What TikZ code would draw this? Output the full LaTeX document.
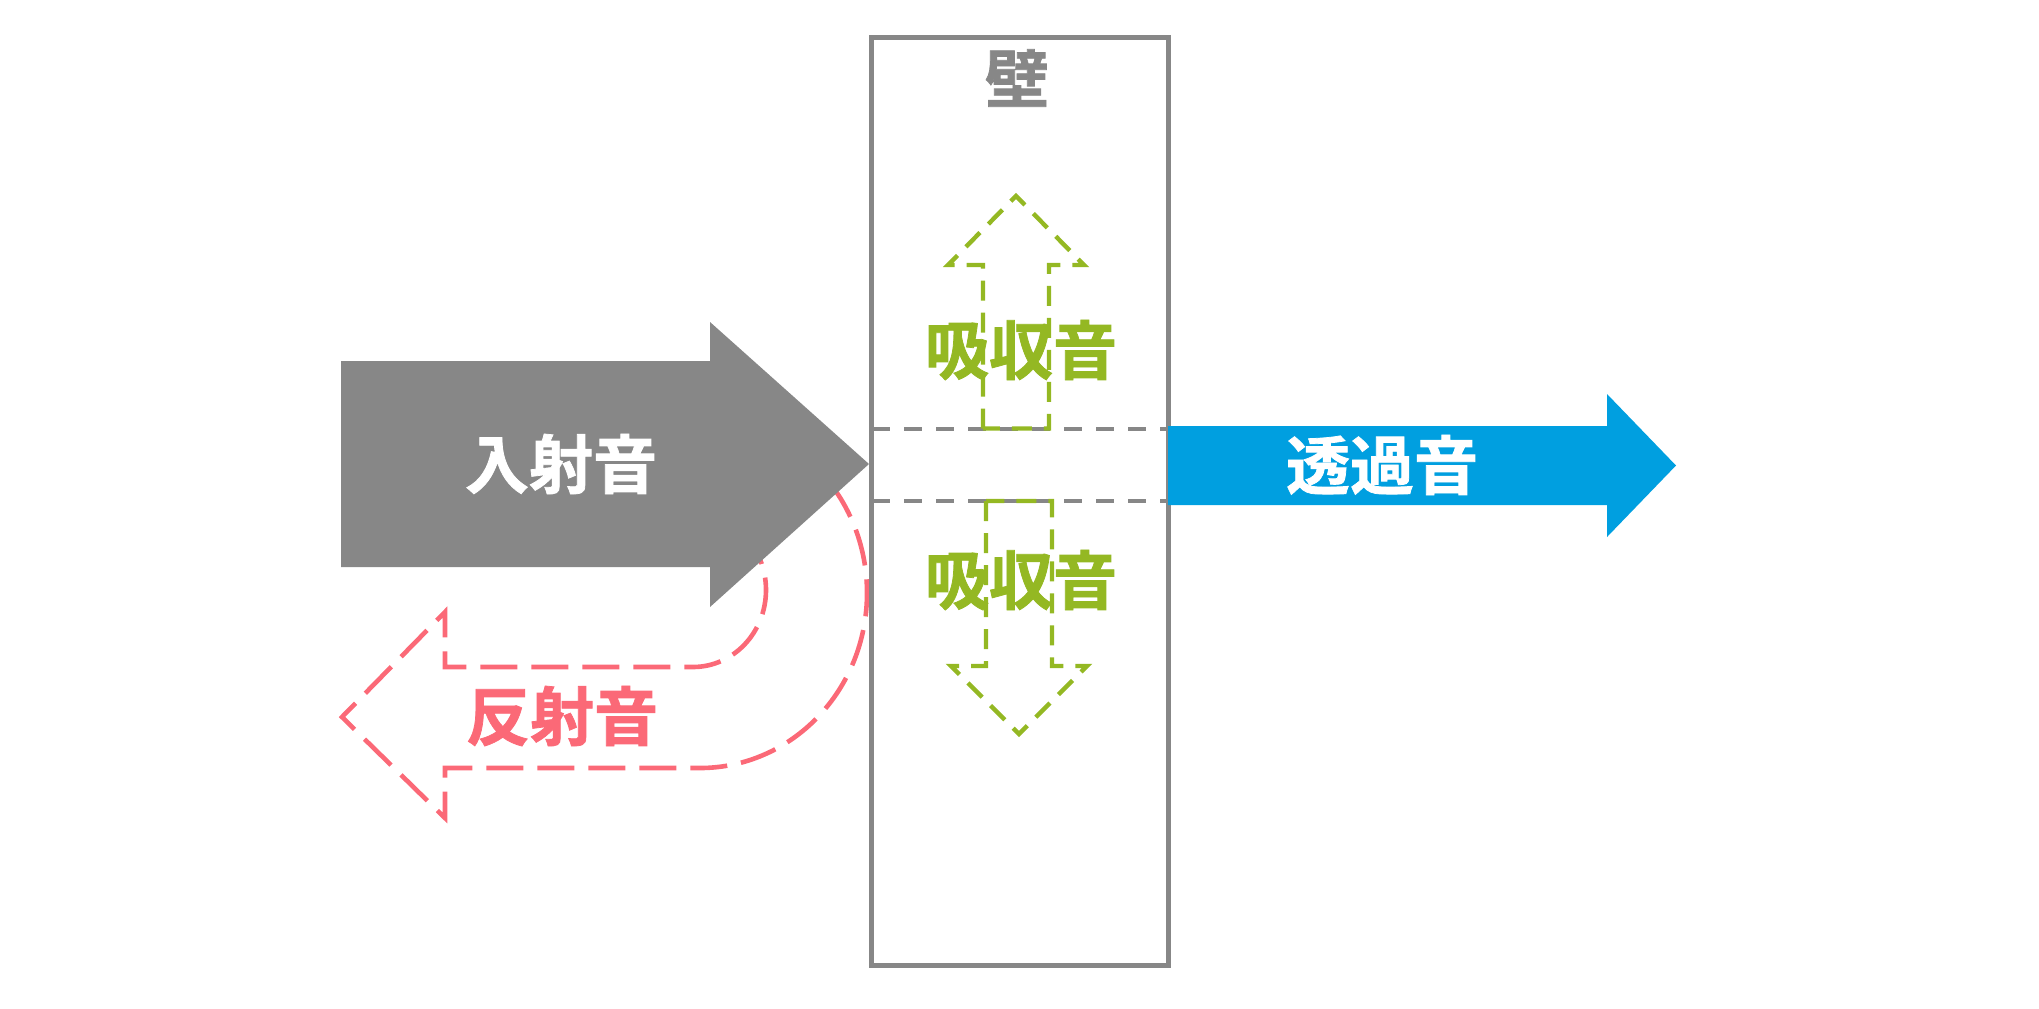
\documentclass[tikz,border=0pt]{standalone}
\usepackage{fontspec}
\newfontfamily\cjk{Noto Sans CJK JP}[BoldFont={Noto Sans CJK JP Bold}, BoldFeatures={FakeBold=1.2}]
\definecolor{wallgray}{HTML}{878787}
\definecolor{tblue}{HTML}{009FE0}
\definecolor{rpink}{HTML}{FB6977}
\definecolor{agreen}{HTML}{94B823}
\begin{document}
\begin{tikzpicture}[x=0.5pt,y=-0.5pt,
  lab/.style={font=\cjk\bfseries\fontsize{32}{32}\selectfont, inner sep=0pt, anchor=center},
  reflbox/.style={draw=rpink, line width=2.3pt, dash pattern=on 18.5pt off 7pt, line join=miter},
  absbox/.style={draw=agreen, line width=2.2pt, dash pattern=on 10pt off 6pt, line join=miter},
  layerline/.style={draw=wallgray, line width=2pt, dash pattern=on 9pt off 7pt},
  wallbox/.style={draw=wallgray, line width=2.5pt}]
\useasboundingbox (0,0) rectangle (2039,1008);

% reflected sound (U-turn dashed arrow), partly hidden by incident arrow
\draw[reflbox]
  (700,418) .. controls (792.2,418) and (867,496.3) .. (867,593)
  .. controls (867,689.7) and (792.2,768) .. (700,768)
  -- (445,768) -- (445,818) -- (342,717) -- (445,612) -- (445,667)
  -- (693,667)
  .. controls (733.3,667) and (766,632.5) .. (766,590)
  .. controls (766,547.5) and (733.3,513) .. (693,513);

% incident sound
\fill[wallgray] (341,361) -- (710,361) -- (710,322) -- (869,464)
  -- (710,607) -- (710,567) -- (341,567) -- cycle;

% wall
\draw[wallbox] (871.5,37.5) rectangle (1168.5,965);
\coordinate (la1) at (872,428.5);
\coordinate (lb1) at (1168,428.5);
\coordinate (la2) at (872,501);
\coordinate (lb2) at (1168,501);
\draw[layerline] (la1) -- (lb1);
\draw[layerline] (la2) -- (lb2);

% absorbed sound arrows
\draw[absbox] (983,428.5) -- (983,265) -- (948,265) -- (1016,196)
  -- (1084,265) -- (1049,265) -- (1049,428.5) -- cycle;
\draw[absbox] (986,501) -- (986,666) -- (951,666) -- (1019,734)
  -- (1087,666) -- (1052,666) -- (1052,501) -- cycle;

% transmitted sound
\fill[tblue] (1168,426) -- (1607,426) -- (1607,394) -- (1676,465.5)
  -- (1607,537) -- (1607,505) -- (1168,505) -- cycle;

% labels
\node[lab, text=wallgray] (wall) at (1017,78) {壁};
\node[lab, text=white] (inc) at (561,464) {入射音};
\node[lab, text=white] (trans) at (1382,465) {透過音};
\node[lab, text=agreen] (absup) at (1021,350) {吸収音};
\node[lab, text=agreen] (absdn) at (1021,580) {吸収音};
\node[lab, text=rpink] (refl) at (562,716) {反射音};
\end{tikzpicture}
\end{document}
